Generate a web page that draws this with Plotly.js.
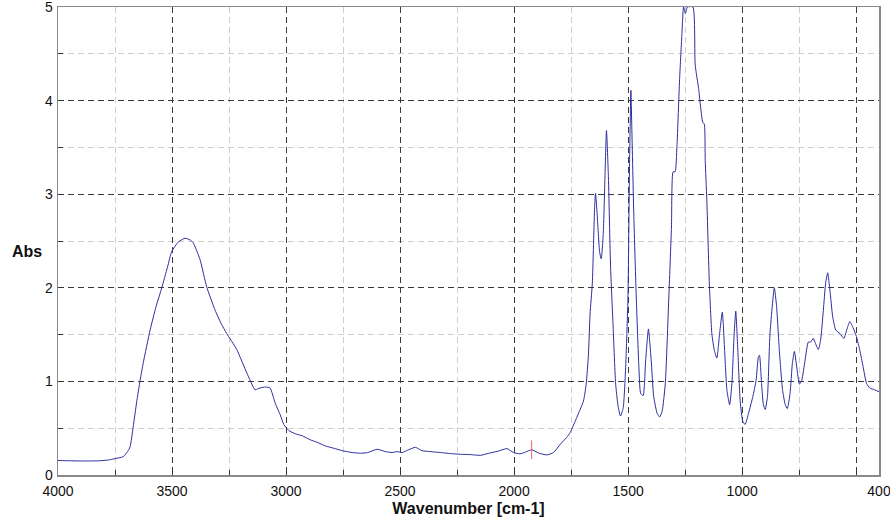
<!DOCTYPE html>
<html>
<head>
<meta charset="utf-8">
<script src="https://cdn.plot.ly/plotly-3.0.1.min.js"></script>
<style>
  html, body { margin: 0; padding: 0; background: #ffffff; }
  #chart { width: 890px; height: 529px; }
</style>
</head>
<body>
<div id="chart"></div>
<script>
// IR absorbance spectrum (wavenumber in cm-1, absorbance)
const wavenumber = [
  4000, 3950, 3900, 3850, 3816, 3780, 3750, 3714, 3695, 3684, 3670, 3655, 3640, 3626,
  3596, 3570, 3545, 3520, 3501, 3472, 3443, 3420, 3407, 3377, 3348, 3311, 3285, 3260,
  3216, 3172, 3136, 3125, 3114, 3090, 3070, 3048, 3025, 3010, 2988, 2959, 2930, 2893,
  2864, 2827, 2791, 2754, 2718, 2674, 2642, 2601, 2564, 2535, 2513, 2491, 2462, 2433,
  2404, 2367, 2323, 2279, 2235, 2192, 2148, 2111, 2067, 2031, 2003, 1974, 1950, 1923,
  1893, 1857, 1827, 1797, 1770, 1754, 1725, 1696, 1684, 1674, 1667, 1657, 1647, 1643,
  1636, 1625, 1618, 1609, 1602, 1595, 1587, 1577, 1567, 1555, 1545, 1534, 1522, 1512,
  1501, 1494, 1488, 1484, 1475, 1464, 1453, 1445, 1434, 1423, 1411, 1399, 1388, 1373,
  1362, 1351, 1337, 1322, 1310, 1303, 1294, 1286, 1274, 1264, 1257, 1249, 1240, 1216,
  1206, 1191, 1184, 1173, 1166, 1162, 1155, 1144, 1133, 1122, 1111, 1099, 1087, 1077,
  1067, 1055, 1045, 1035, 1028, 1019, 1009, 997, 987, 972, 953, 939, 929, 924,
  915, 907, 899, 889, 878, 859, 849, 837, 823, 811, 802, 790, 780, 771,
  761, 749, 739, 724, 710, 700, 688, 681, 666, 656, 644, 634, 625, 615,
  603, 590, 571, 554, 539, 528, 513, 499, 484, 470, 455, 441, 419, 400
];
const absorbance = [
  0.155, 0.152, 0.150, 0.150, 0.152, 0.160, 0.175, 0.196, 0.25, 0.30, 0.52, 0.78, 1.01, 1.20,
  1.55, 1.80, 2.00, 2.22, 2.39, 2.49, 2.53, 2.51, 2.48, 2.30, 2.01, 1.76, 1.62, 1.51,
  1.34, 1.09, 0.91, 0.92, 0.93, 0.94, 0.93, 0.77, 0.64, 0.54, 0.475, 0.44, 0.42, 0.375,
  0.35, 0.31, 0.286, 0.26, 0.243, 0.232, 0.24, 0.275, 0.25, 0.24, 0.25, 0.24, 0.27, 0.296,
  0.26, 0.25, 0.24, 0.229, 0.221, 0.218, 0.21, 0.232, 0.257, 0.282, 0.24, 0.226, 0.245, 0.27,
  0.235, 0.215, 0.24, 0.33, 0.40, 0.455, 0.616, 0.79, 0.97, 1.29, 1.72, 2.05, 2.86, 3.01,
  2.79, 2.38, 2.31, 2.58, 3.15, 3.68, 3.22, 2.22, 1.65, 0.98, 0.75, 0.63, 0.71, 1.09,
  1.87, 3.29, 4.11, 3.72, 2.76, 1.87, 1.16, 0.87, 0.85, 1.23, 1.56, 1.23, 0.84, 0.66,
  0.62, 0.68, 0.98, 1.87, 2.65, 3.24, 3.24, 3.51, 4.25, 4.72, 5.00, 4.93, 5.00, 5.00,
  4.38, 4.13, 3.97, 3.77, 3.75, 3.36, 2.94, 2.05, 1.51, 1.33, 1.25, 1.51, 1.74, 1.33,
  0.91, 0.75, 0.98, 1.51, 1.75, 1.33, 0.80, 0.57, 0.54, 0.66, 0.84, 1.01, 1.26, 1.28,
  0.98, 0.75, 0.70, 0.84, 1.51, 2.00, 1.80, 1.33, 0.91, 0.75, 0.71, 0.87, 1.19, 1.32,
  1.16, 0.97, 1.01, 1.23, 1.42, 1.42, 1.46, 1.42, 1.34, 1.44, 1.76, 2.05, 2.16, 1.97,
  1.69, 1.55, 1.51, 1.46, 1.57, 1.64, 1.57, 1.48, 1.33, 1.16, 0.98, 0.93, 0.91, 0.89
];

// Cursor marker on the spectrum
const cursorWn = [1923, 1923];
const cursorAbs = [0.17, 0.37];

// Axis tick labels
const xTickVals = [4000, 3500, 3000, 2500, 2000, 1500, 1000, 500, 400];
const xTickText = ['4000', '3500', '3000', '2500', '2000', '1500', '1000', '', '400'];
const yTickVals = [0, 1, 2, 3, 4, 5];
const yTickText = ['0', '1', '2', '3', '4', '5'];

const FONT = 'Liberation Sans, Arial, sans-serif';

const traces = [
  {
    x: wavenumber, y: absorbance,
    type: 'scatter', mode: 'lines',
    line: { color: '#2e2e9c', width: 1, shape: 'spline', smoothing: 0.5 },
    hoverinfo: 'x+y'
  },
  {
    x: cursorWn, y: cursorAbs,
    type: 'scatter', mode: 'lines',
    line: { color: '#ff5a5a', width: 1 },
    hoverinfo: 'skip'
  }
];

const axisCommon = {
  showline: true, linecolor: '#8a8a8a', linewidth: 1.5, mirror: true,
  ticks: 'inside', ticklen: 6, tickcolor: '#333333', tickwidth: 1,
  showgrid: true, gridcolor: '#3a3a3a', gridwidth: 1, griddash: '6px,4px',
  zeroline: false,
  ticklabeloverflow: 'allow',
  tickfont: { family: FONT, size: 14, color: '#111111' }
};

const layout = {
  width: 890, height: 529,
  margin: { l: 58, r: 11, t: 7, b: 54 },
  paper_bgcolor: '#ffffff', plot_bgcolor: '#ffffff',
  showlegend: false,
  font: { family: FONT, color: '#111111' },
  xaxis: Object.assign({}, axisCommon, {
    range: [4000, 400], autorange: false,
    tickmode: 'array', tickvals: xTickVals, ticktext: xTickText,
    ticklabelstandoff: 3,
    minor: {
      tick0: 0, dtick: 250, ticks: 'inside', ticklen: 5, tickcolor: '#333333',
      showgrid: true, gridcolor: '#cfcfcf', gridwidth: 1, griddash: '6px,4px'
    },
    title: { text: 'Wavenumber [cm-1]', font: { family: FONT, size: 16, color: '#111111', weight: 'bold' }, standoff: 4 }
  }),
  yaxis: Object.assign({}, axisCommon, {
    range: [0, 5], autorange: false,
    tickmode: 'array', tickvals: yTickVals, ticktext: yTickText,
    ticklabelstandoff: 1,
    minor: {
      tick0: 0, dtick: 0.5, ticks: 'inside', ticklen: 5, tickcolor: '#333333',
      showgrid: true, gridcolor: '#cfcfcf', gridwidth: 1, griddash: '6px,4px'
    }
  }),
  annotations: [
    {
      text: 'Abs', xref: 'paper', yref: 'paper', x: -0.038, y: 0.478,
      xanchor: 'center', yanchor: 'middle', showarrow: false,
      font: { family: FONT, size: 16, color: '#111111', weight: 'bold' }
    }
  ]
};

Plotly.newPlot('chart', traces, layout, { displayModeBar: false, staticPlot: true });
</script>
</body>
</html>
